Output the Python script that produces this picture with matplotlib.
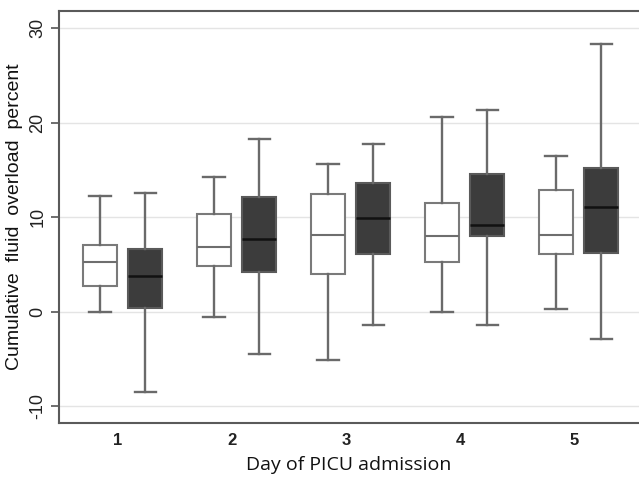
import numpy as np
import matplotlib.pyplot as plt

# values (percent)
days = [1, 2, 3, 4, 5]
tick_labels = ["1", "2", "3", "4", "5"]

# group A (white boxes)
a_low = [0.0, -0.6, -5.1, -0.05, 0.25]
a_q1 = [2.7, 4.8, 4.0, 5.2, 6.05]
a_med = [5.2, 6.85, 8.15, 8.05, 8.1]
a_q3 = [7.1, 10.3, 12.4, 11.5, 12.85]
a_high = [12.25, 14.2, 15.6, 20.6, 16.45]

# group B (dark boxes)
b_low = [-8.5, -4.5, -1.45, -1.45, -2.95]
b_q1 = [0.4, 4.2, 6.1, 8.0, 6.15]
b_med = [3.8, 7.7, 9.9, 9.2, 11.05]
b_q3 = [6.6, 12.1, 13.6, 14.55, 15.2]
b_high = [12.5, 18.3, 17.7, 21.3, 28.3]


def make_stats(low, q1, med, q3, high):
    return [dict(whislo=l, q1=a, med=m, q3=b, whishi=h, fliers=[])
            for l, a, m, b, h in zip(low, q1, med, q3, high)]


fig = plt.figure(figsize=(6.39, 4.83), dpi=100)
ax = fig.add_axes([0.0923, 0.124, 0.9077, 0.853])

for y in [-10, 0, 10, 20, 30]:
    ax.axhline(y, color="#e4e4e4", lw=1.0, zorder=0)

pos = np.array(days, dtype=float)
common = dict(widths=0.3, capwidths=0.19, showfliers=False, patch_artist=True,
              whiskerprops=dict(color="#6a6a6a", lw=1.7),
              capprops=dict(color="#6a6a6a", lw=1.7))

ax.bxp(make_stats(a_low, a_q1, a_med, a_q3, a_high), positions=pos - 0.16,
       boxprops=dict(facecolor="white", edgecolor="#7a7a7a", lw=1.5),
       medianprops=dict(color="#6e6e6e", lw=1.5), **common)
ax.bxp(make_stats(b_low, b_q1, b_med, b_q3, b_high), positions=pos + 0.24,
       boxprops=dict(facecolor="#3c3c3c", edgecolor="#5a5a5a", lw=1.5),
       medianprops=dict(color="#111111", lw=1.8), **common)

ax.set_xlim(0.482, 5.57)
ax.set_ylim(-11.8, 31.8)
ax.set_xticks(pos)
ax.set_xticklabels(tick_labels, fontfamily="Liberation Sans", fontsize=12, fontweight="bold", color="#222222")
ax.set_yticks([-10, 0, 10, 20, 30])
ax.set_yticklabels(["-10", "0", "10", "20", "30"], rotation=90, va="center",
                   fontfamily="Liberation Sans", fontsize=13, color="#222222")
ax.tick_params(axis="x", length=0, pad=7)
ax.tick_params(axis="y", length=6, width=1.2, color="#555555", pad=3)

for s in ["left", "bottom", "top"]:
    ax.spines[s].set_color("#5a5a5a")
    ax.spines[s].set_linewidth(1.5)
ax.spines["right"].set_visible(False)

ax.set_ylabel("Cumulative  fluid  overload  percent", fontfamily="Liberation Sans",
              fontsize=14, color="#111111", labelpad=5)
ax.set_xlabel("Day of PICU admission", fontfamily="Open Sans", fontsize=14,
              color="#111111", labelpad=6)

fig.savefig("out.png", dpi=100)
